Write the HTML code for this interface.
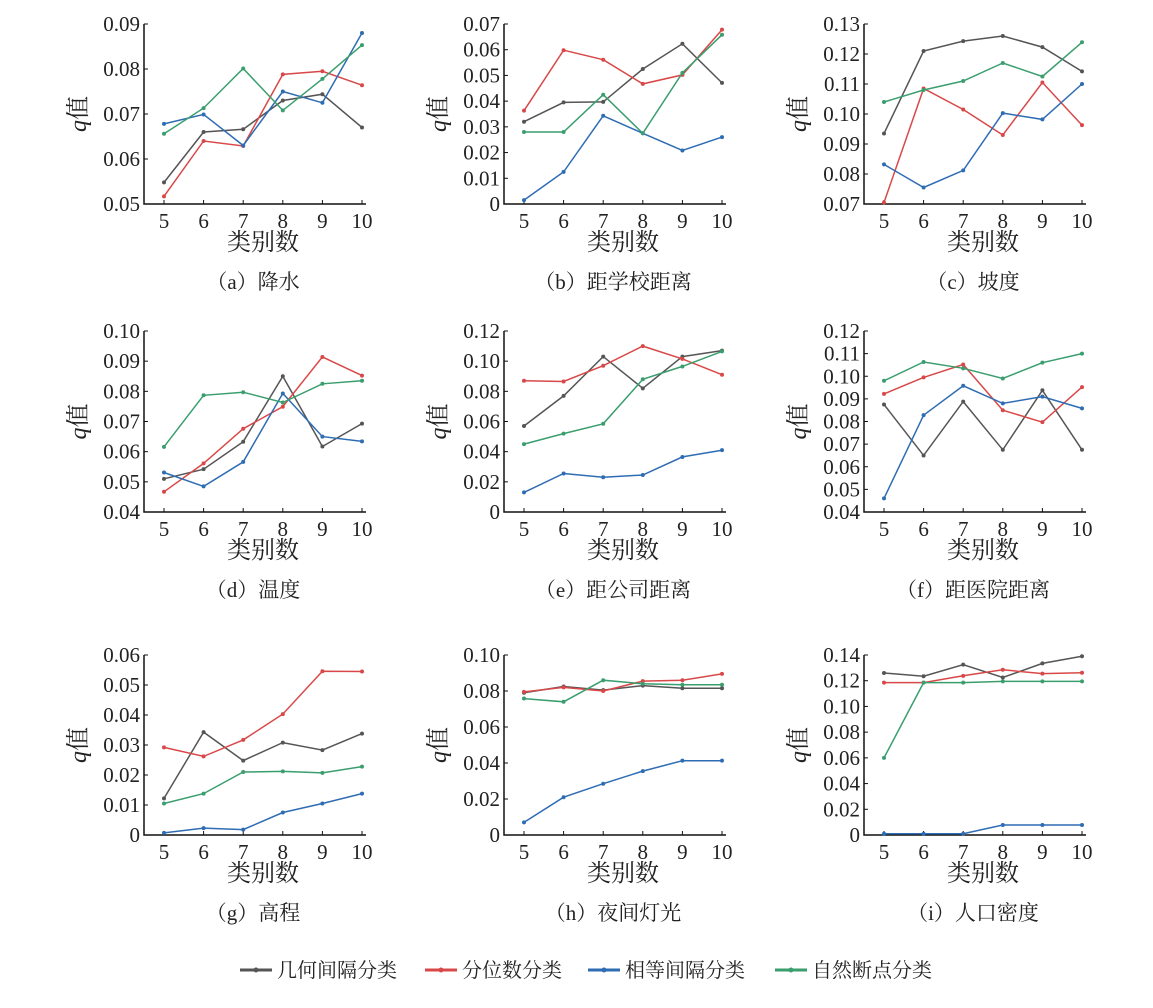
<!DOCTYPE html>
<html><head><meta charset="utf-8"><style>
body{margin:0;background:#fff;}
svg text{font-family:"Liberation Serif","Noto Serif CJK SC","Noto Sans CJK SC",serif;fill:#222;}
</style></head><body>
<svg id="s" width="1153" height="1003" xmlns="http://www.w3.org/2000/svg"></svg>
<script>
const C=["#555555","#d94848","#2e6cb3","#3a9e6e"];
const P=[
{c:"（a）降水",min:.05,max:.09,st:.01,s:[[.0548,.066,.0666,.073,.0744,.067],[.0517,.064,.0629,.0788,.0795,.0764],[.0678,.0699,.063,.075,.0725,.088],[.0656,.0713,.0801,.0708,.0778,.0853]]},
{c:"（b）距学校距离",min:0,max:.07,st:.01,s:[[.032,.0395,.0397,.0525,.0623,.0471],[.0363,.0598,.0561,.0467,.0502,.0678],[.0015,.0125,.0343,.0275,.0208,.026],[.028,.028,.0425,.0275,.051,.0658]]},
{c:"（c）坡度",min:.07,max:.13,st:.01,s:[[.0935,.121,.1243,.126,.1223,.1142],[.0705,.1085,.1015,.093,.1105,.0963],[.0832,.0755,.0812,.1003,.0982,.11],[.104,.108,.111,.117,.1125,.1239]]},
{c:"（d）温度",min:.04,max:.10,st:.01,s:[[.051,.0542,.0633,.085,.0617,.0693],[.0467,.0561,.0676,.0749,.0914,.0852],[.0531,.0485,.0566,.0793,.065,.0634],[.0616,.0787,.0797,.0763,.0825,.0835]]},
{c:"（e）距公司距离",min:0,max:.12,st:.02,s:[[.057,.077,.103,.082,.103,.107],[.087,.0865,.097,.110,.1015,.091],[.013,.0255,.023,.0245,.0365,.041],[.045,.052,.0585,.088,.0965,.1065]]},
{c:"（f）距医院距离",min:.04,max:.12,st:.01,s:[[.0875,.065,.0888,.0675,.0938,.0675],[.0922,.0995,.1052,.085,.0797,.0952],[.046,.0828,.0958,.088,.091,.0858],[.098,.1063,.1035,.099,.106,.110]]},
{c:"（g）高程",min:0,max:.06,st:.01,s:[[.0122,.0343,.0248,.0308,.0283,.0338],[.0292,.0262,.0317,.0403,.0546,.0545],[.0007,.0023,.0018,.0075,.0105,.0138],[.0105,.0138,.021,.0212,.0207,.0228]]},
{c:"（h）夜间灯光",min:0,max:.10,st:.02,s:[[.079,.0825,.0805,.083,.0815,.0815],[.0795,.082,.08,.0855,.086,.0895],[.007,.021,.0285,.0355,.0413,.0413],[.0758,.074,.086,.084,.0835,.0835]]},
{c:"（i）人口密度",min:0,max:.14,st:.02,s:[[.126,.1235,.1325,.1225,.1335,.139],[.1185,.1185,.1238,.1285,.1255,.1262],[.001,.001,.001,.0078,.0078,.0078],[.06,.1185,.1185,.1195,.1195,.1195]]}
];
const rows=[[24,204],[331,512],[655,835]];
let h="";
P.forEach((p,i)=>{
 const col=i%3,row=Math.floor(i/3);
 const ax=144+col*360, x5=164+col*360, dx=39.6;
 const [top,bot]=rows[row];
 const Y=v=>bot-(v-p.min)/(p.max-p.min)*(bot-top);
 h+=`<path d="M${ax},${top}V${bot}H${x5+5*dx+4}" stroke="#111" stroke-width="1.5" fill="none"/>`;
 const n=Math.round((p.max-p.min)/p.st);
 for(let k=0;k<=n;k++){const v=p.min+k*p.st;const y=Y(v);
  const lab=Math.abs(v)<1e-9?"0":v.toFixed(2);
  h+=`<line x1="${ax}" y1="${y}" x2="${ax+4}" y2="${y}" stroke="#111"/>`;
  h+=`<text x="${ax-4}" y="${y+7}" font-size="21" text-anchor="end">${lab}</text>`;}
 for(let k=0;k<6;k++){const x=x5+k*dx;
  h+=`<line x1="${x}" y1="${bot}" x2="${x}" y2="${bot-4}" stroke="#111"/>`;
  h+=`<text x="${x}" y="${bot+24}" font-size="21" text-anchor="middle">${k+5}</text>`;}
 h+=`<text x="${x5+2.5*dx}" y="${bot+46}" font-size="24" text-anchor="middle">类别数</text>`;
 const cx=ax-58,cy=(top+bot)/2;
 h+=`<text transform="translate(${cx},${cy}) rotate(-90)" font-size="24" text-anchor="middle"><tspan font-style="italic">q</tspan>值</text>`;
 h+=`<text x="${x5+2.5*dx-10}" y="${bot+85}" font-size="21" text-anchor="middle">${p.c}</text>`;
 p.s.forEach((s,j)=>{
  const pts=s.map((v,k)=>`${(x5+k*dx).toFixed(1)},${Y(v).toFixed(1)}`);
  h+=`<polyline points="${pts.join(" ")}" fill="none" stroke="${C[j]}" stroke-width="1.5"/>`;
  s.forEach((v,k)=>{h+=`<circle cx="${x5+k*dx}" cy="${Y(v)}" r="2" fill="${C[j]}"/>`;});
 });
});
const L=[["几何间隔分类",240],["分位数分类",425],["相等间隔分类",588],["自然断点分类",775]];
L.forEach((l,j)=>{
 h+=`<line x1="${l[1]}" y1="970" x2="${l[1]+32}" y2="970" stroke="${C[j]}" stroke-width="3"/><circle cx="${l[1]+16}" cy="970" r="2.5" fill="${C[j]}"/>`;
 h+=`<text x="${l[1]+37}" y="977" font-size="20">${l[0]}</text>`;
});
document.getElementById("s").innerHTML=h;
</script>
</body></html>
